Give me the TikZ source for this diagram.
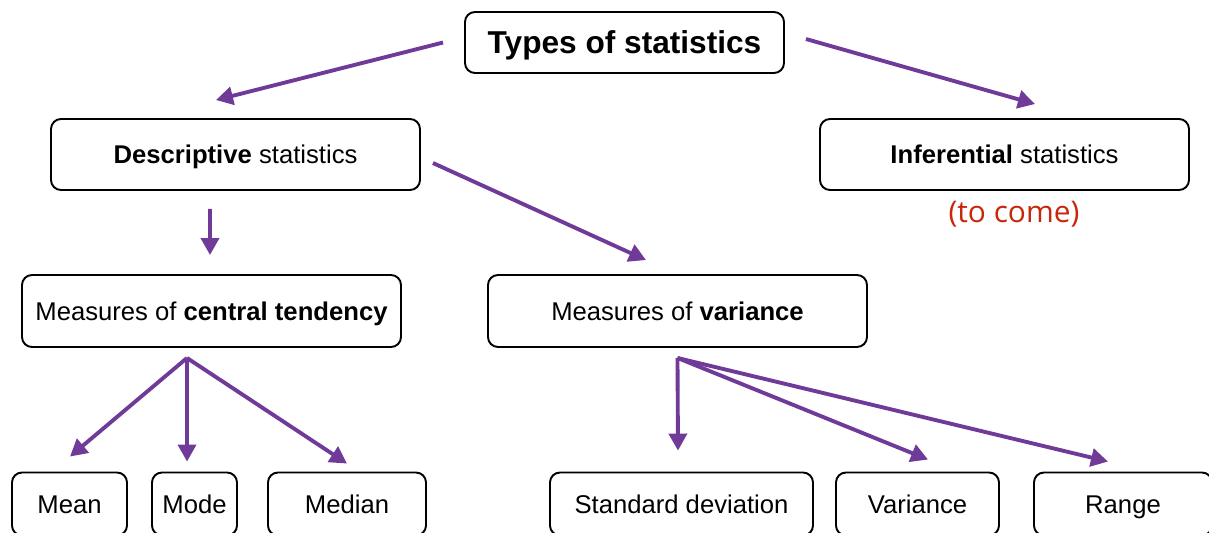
\documentclass[tikz,border=0pt]{standalone}
\usepackage{fontspec}
\setmainfont{Liberation Sans}
\newfontfamily\comefont{Open Sans}
\usetikzlibrary{arrows.meta}
\definecolor{arrowpurple}{RGB}{112,58,152}
\definecolor{comered}{RGB}{200,40,10}

\begin{document}
\begin{tikzpicture}[
  box/.style={draw, rounded corners=0.2cm, line width=1.1pt, minimum height=1.42cm, inner sep=2pt,
    text height=10.5pt, text depth=0pt, font=\fontsize{14.6}{17}\selectfont},
  leaf/.style={box, minimum height=1.26cm},
  arr/.style={arrowpurple, line width=2.2pt, -{Triangle[length=0.34cm,width=0.36cm]}}
]
\useasboundingbox (0,0) rectangle (24.18,-10.64);
\clip (0,0) rectangle (24.18,-10.64);

\node[box, minimum width=6.38cm, minimum height=1.22cm, text height=12.9pt, font=\fontsize{18}{21}\selectfont\bfseries] (types) at (12.49,-0.85) {Types of statistics};

\node[box, minimum width=7.38cm] (desc) at (4.71,-3.09) {\textbf{Descriptive} statistics};
\node[box, minimum width=7.38cm] (inf) at (20.09,-3.09) {\textbf{Inferential} statistics};
\node[text=comered, font=\comefont\fontsize{17}{20}\selectfont] (tocome) at (20.28,-4.28) {(to come)};

\node[box, minimum width=7.58cm, minimum height=1.44cm] (central) at (4.23,-6.22) {Measures of \textbf{central tendency}};
\node[box, minimum width=7.58cm, minimum height=1.44cm] (varbox) at (13.55,-6.22) {Measures of \textbf{variance}};

% bottom row
\node[leaf, minimum width=2.30cm] (mean) at (1.39,-10.08) {Mean};
\node[leaf, minimum width=1.70cm] (mode) at (3.89,-10.08) {Mode};
\node[leaf, minimum width=3.16cm] (median) at (6.94,-10.08) {Median};
\node[leaf, minimum width=5.26cm] (sd) at (13.63,-10.08) {Standard deviation};
\node[leaf, minimum width=3.26cm] (variance) at (18.35,-10.08) {Variance};
\node[leaf, minimum width=3.56cm] (range) at (22.46,-10.08) {Range};

\draw[arr] ([xshift=-0.42cm]types.west) -- ([shift={(-0.39,0.36)}]desc.north);
\draw[arr] ([shift={(0.42,0.07)}]types.east) -- ([shift={(0.61,0.28)}]inf.north);

\draw[arr] ([shift={(-0.51,-0.36)}]desc.south) -- ([shift={(-0.03,0.38)}]central.north);
\draw[arr] ([shift={(0.24,-0.17)}]desc.east) -- ([shift={(-0.63,0.28)}]varbox.north);

\coordinate (ctfork) at ([shift={(-0.49,-0.2)}]central.south);
\coordinate (varfork) at ([yshift=-0.2cm]varbox.south);

\draw[arr] (ctfork) -- ([shift={(0.01,0.3)}]mean.north);
\draw[arr] (ctfork) -- ([shift={(-0.15,0.2)}]mode.north);
\draw[arr] (ctfork) -- ([yshift=0.16cm]median.north);

\draw[arr] (varfork) -- ([shift={(-0.07,0.42)}]sd.north);
\draw[arr] (varfork) -- ([shift={(0.21,0.24)}]variance.north);
\draw[arr] (varfork) -- ([shift={(-0.3,0.2)}]range.north);

\end{tikzpicture}
\end{document}
